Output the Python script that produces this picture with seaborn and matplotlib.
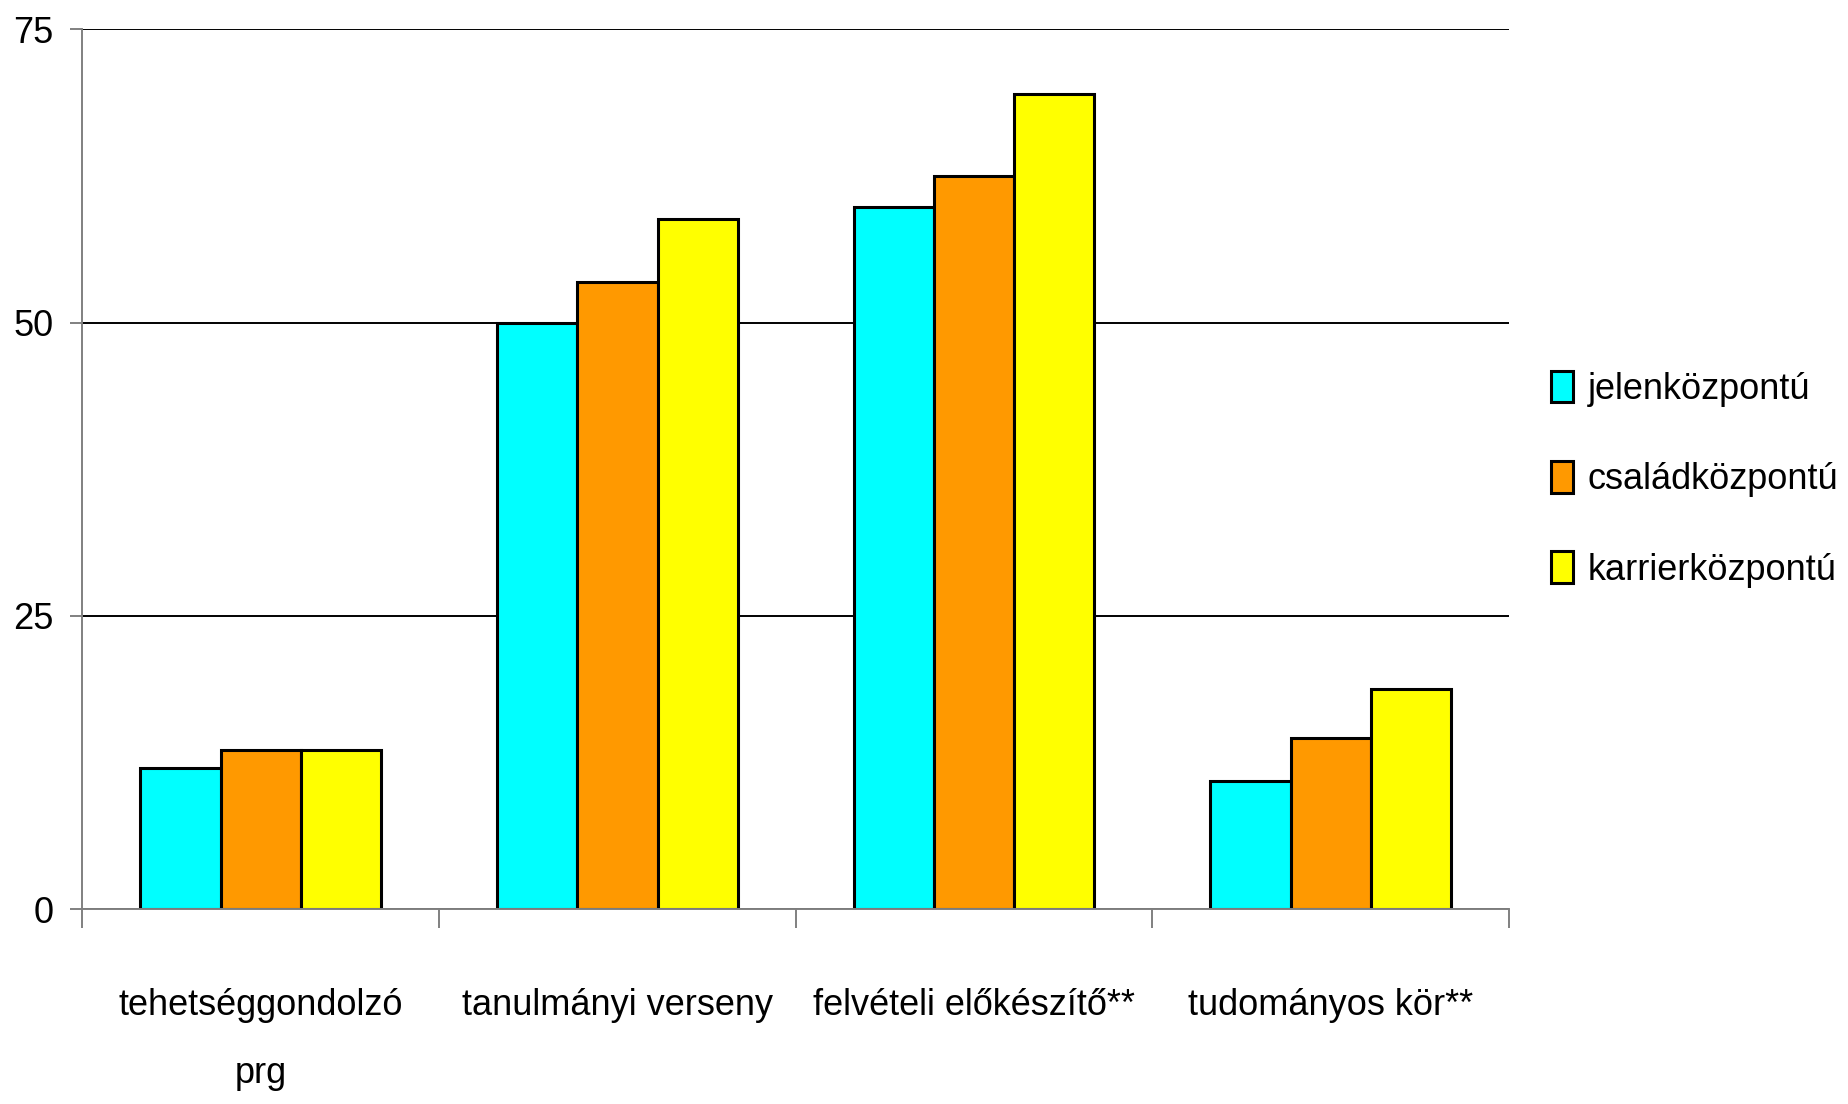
import pandas as pd
import matplotlib.pyplot as plt
import seaborn as sns
from matplotlib.ticker import FixedLocator

# chart data
categories = ['tehetséggondolzó\nprg', 'tanulmányi verseny', 'felvételi előkészítő**', 'tudományos kör**']
groups = ['jelenközpontú', 'családközpontú', 'karrierközpontú']
jelen = [12.0, 50.0, 59.9, 10.9]
csalad = [13.6, 53.5, 62.5, 14.6]
karrier = [13.6, 58.8, 69.5, 18.8]
colors = ['#00FFFF', '#FF9900', '#FFFF00']
yticks = [0, 25, 50, 75]

sns.set_style('white')
plt.rcParams['font.family'] = ['Liberation Sans', 'DejaVu Sans']
plt.rcParams['text.color'] = 'black'
FS = 26

# long format for seaborn
df = pd.DataFrame({
    'kategoria': categories * 3,
    'csoport': [g for g in groups for _ in categories],
    'ertek': jelen + csalad + karrier,
})

fig = plt.figure(figsize=(18.49, 11.04), dpi=100)
ax = fig.add_axes([0.0446, 0.1766, 0.7715, 0.7967])

sns.barplot(data=df, x='kategoria', y='ertek', hue='csoport', order=categories, hue_order=groups,
            palette=colors, width=0.675, edgecolor='black', linewidth=2.2, saturation=1, ax=ax)

ax.set_ylim(0, 75)
ax.set_xlim(-0.5, 3.5)
ax.set_yticks(yticks)
ax.set_xlabel('')
ax.set_ylabel('')

# grid and spines
ax.yaxis.grid(True, color='black', linewidth=1.4)
ax.set_axisbelow(True)
for side in ['top', 'right']:
    ax.spines[side].set_visible(False)
for side in ['left', 'bottom']:
    ax.spines[side].set_color('#808080')
    ax.spines[side].set_linewidth(1.4)

# category boundary ticks
ax.xaxis.set_minor_locator(FixedLocator([-0.5, 0.5, 1.5, 2.5, 3.5]))
ax.tick_params(axis='x', which='major', length=0, pad=57, labelsize=FS, labelcolor='black')
ax.tick_params(axis='x', which='minor', length=14, width=1.4, color='#808080', bottom=True)
ax.tick_params(axis='y', which='major', length=9, width=1.4, color='#808080', pad=12,
               labelsize=FS, labelcolor='black', left=True)
for lbl in ax.get_xticklabels():
    lbl.set_linespacing(2.2)

# legend
handles, labels = ax.get_legend_handles_labels()
ax.legend(handles, labels, loc='center left', bbox_to_anchor=(0.839, 0.566),
          bbox_transform=fig.transFigure, frameon=False, fontsize=FS,
          handlelength=0.6, handleheight=0.97, handletextpad=0.4, labelspacing=1.5,
          borderpad=0, borderaxespad=0)
for patch in ax.get_legend().get_patches():
    patch.set_edgecolor('black')
    patch.set_linewidth(2.2)

plt.savefig('out.png', dpi=100)
